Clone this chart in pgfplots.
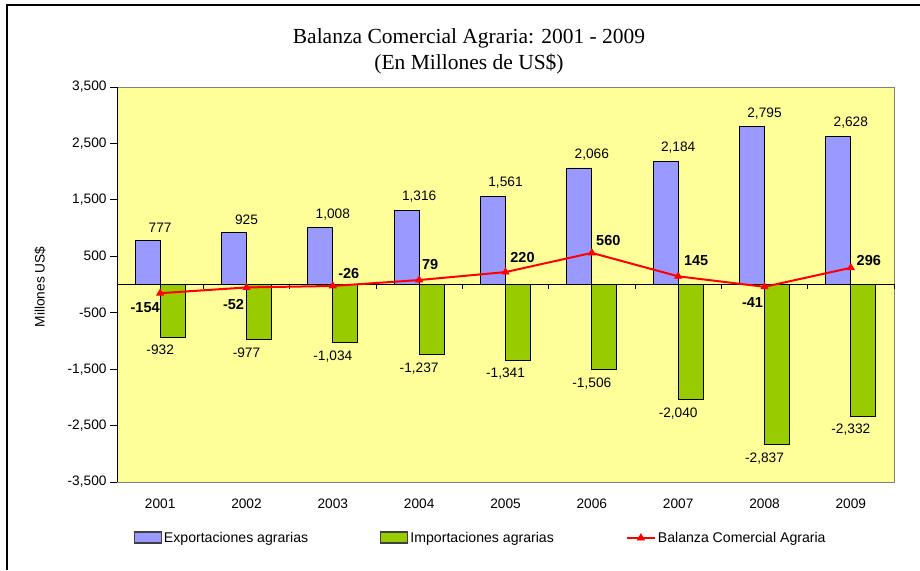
\documentclass[border=0pt]{standalone}
\usepackage{fontspec}
\setmainfont{Liberation Sans}
\newfontfamily\titlefont{Liberation Serif}
\usepackage{pgfplots}
\pgfplotsset{compat=1.18}

\definecolor{expcol}{HTML}{9999FF}
\definecolor{impcol}{HTML}{99CC00}
\definecolor{plotbg}{HTML}{FFFF99}
\newcommand\lab{\fontsize{13.7}{16}\selectfont}

\begin{document}
\begin{tikzpicture}[x=1pt,y=1pt]
\useasboundingbox (0,0) rectangle (920,570);
\draw[line width=1.6pt] (7,0) -- (7,565) -- (920,565);
\node[align=center, font=\titlefont\fontsize{21.5}{26}\selectfont] at (469,519)
  {Balanza Comercial Agraria: 2001 - 2009\\(En Millones de US\$)};

\begin{axis}[
  at={(117pt,88pt)}, anchor=south west,
  scale only axis, width=777pt, height=395pt,
  xmin=2000.5, xmax=2009.5, ymin=-3500, ymax=3500,
  xtick={2001,2002,2003,2004,2005,2006,2007,2008,2009},
  xticklabels={2001,2002,2003,2004,2005,2006,2007,2008,2009},
  ytick={-3500,-2500,...,3500},
  /pgf/number format/.cd, 1000 sep={,}, assume math mode=true, /pgfplots/.cd,
  xtick style={draw=none},
  ytick pos=left, tick align=outside, major tick length=7pt,
  ytick style={black, line width=0.8pt},
  tick label style={font=\lab},
  xticklabel style={yshift=-6pt},
  axis line style={draw=gray, line width=0.8pt},
  axis background/.style={fill=plotbg},
  ylabel={Millones US\$},
  ylabel style={at={(axis description cs:-0.0991,0.4937)}, anchor=center, font=\lab},
  legend columns=3,
  legend style={at={(axis description cs:0.468,-0.1418)}, anchor=center,
    draw=none, fill=none, font=\fontsize{14.1}{16}\selectfont,
    /tikz/every even column/.append style={column sep=70pt}},
  clip=false,
]
\addplot[ybar, bar width=25pt, bar shift=-12.5pt, fill=expcol, draw=black, line width=0.8pt,
  nodes near coords, nodes near coords style={anchor=south, yshift=4pt, font=\lab, black},
  legend image code/.code={\draw[fill=expcol, draw=black!75, line width=1.3pt] (0pt,-5pt) rectangle (27pt,6pt);}]
  coordinates {(2001,777) (2002,925) (2003,1008) (2004,1316) (2005,1561)
               (2006,2066) (2007,2184) (2008,2795) (2009,2628)};
\addlegendentry{Exportaciones agrarias}
\addplot[ybar, bar width=25pt, bar shift=12.5pt, fill=impcol, draw=black, line width=0.8pt,
  nodes near coords, nodes near coords style={anchor=north, yshift=-4.5pt, font=\lab, black},
  legend image code/.code={\draw[fill=impcol, draw=black!75, line width=1.3pt] (0pt,-5pt) rectangle (27pt,6pt);}]
  coordinates {(2001,-932) (2002,-977) (2003,-1034) (2004,-1237) (2005,-1341)
               (2006,-1506) (2007,-2040) (2008,-2837) (2009,-2332)};
\addlegendentry{Importaciones agrarias}

% zero line with category ticks
\draw[black, line width=0.8pt] (axis cs:2000.5,0) -- (axis cs:2009.5,0);
\pgfplotsinvokeforeach{2001.5,2002.5,2003.5,2004.5,2005.5,2006.5,2007.5,2008.5,2009.5}{
  \draw[black, line width=0.8pt] (axis cs:#1,0) -- ++(0pt,-5pt);
}
\draw[black, line width=0.8pt] (axis cs:2000.5,-3500) -- (axis cs:2000.5,3500);

\addplot[red, line width=2pt, mark=triangle*, mark size=4pt,
  mark options={line width=0.8pt, fill=red},
  legend image code/.code={\draw[red, line width=2pt, mark=triangle*, mark size=4pt,
    mark options={line width=0.8pt, fill=red}, mark repeat=2, mark phase=2]
    plot coordinates {(0pt,0pt) (14pt,0pt) (28pt,0pt)};}]
  coordinates {(2001,-154) (2002,-52) (2003,-26) (2004,79) (2005,220)
               (2006,560) (2007,145) (2008,-41) (2009,296)};
\addlegendentry{Balanza Comercial Agraria}

\addplot[draw=none, forget plot, nodes near coords,
  visualization depends on={\thisrow{dx} \as \lblx},
  visualization depends on={\thisrow{dy} \as \lbly},
  nodes near coords style={anchor=center, inner sep=0pt, xshift={\lblx pt}, yshift={\lbly pt},
    font=\fontsize{14.5}{16}\selectfont\bfseries, black}]
  table {
  x    y    dx    dy
  2001 -154 -15   -14.5
  2002 -52  -13   -17.5
  2003 -26  16    12
  2004 79   11    15.5
  2005 220  17    14.6
  2006 560  16.5  12.4
  2007 145  18    15.3
  2008 -41  -12   -16
  2009 296  18    7.7
  };
\end{axis}
\end{tikzpicture}
\end{document}
